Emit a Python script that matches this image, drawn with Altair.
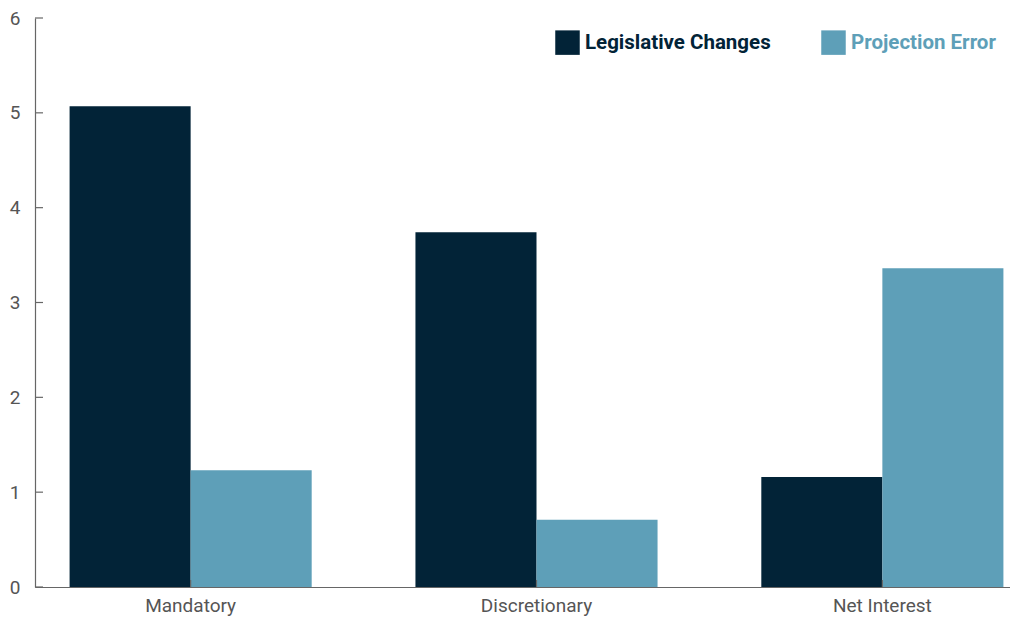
import altair as alt
import pandas as pd

categories = ["Mandatory", "Discretionary", "Net Interest"]
series = ["Legislative Changes", "Projection Error"]
legislative = [5.07, 3.74, 1.16]
projection = [1.23, 0.71, 3.36]
y_ticks = [0, 1, 2, 3, 4, 5, 6]
colors = ["#022337", "#5e9fb8"]

rows = []
for c, a, b in zip(categories, legislative, projection):
    rows.append({"category": c, "series": series[0], "value": a})
    rows.append({"category": c, "series": series[1], "value": b})
df = pd.DataFrame(rows)
ticks_df = pd.DataFrame({"v": y_ticks})
cat_df = pd.DataFrame({"category": categories})

FONT = "Roboto"
xscale = alt.Scale(domain=categories, paddingInner=0.3, paddingOuter=0.1, range=[0, 1003])
yscale = alt.Scale(domain=[0, 6], nice=False)

bars = alt.Chart(df).mark_bar().encode(
    x=alt.X("category:N", scale=xscale, sort=categories, title=None,
            axis=alt.Axis(labelAngle=0, labelFontSize=19, labelColor="#555555",
                          labelFont=FONT, labelPadding=9, ticks=False,
                          domainColor="#666666", domainWidth=1.2)),
    xOffset=alt.XOffset("series:N", sort=series),
    y=alt.Y("value:Q", scale=yscale, title=None,
            axis=alt.Axis(values=y_ticks, format="d", labelFontSize=19, labelColor="#555555",
                          labelFont=FONT, labelPadding=15, ticks=False, grid=False,
                          domainColor="#666666", domainWidth=1.2)),
    color=alt.Color("series:N", sort=series,
                    scale=alt.Scale(domain=series, range=colors),
                    legend=alt.Legend(title=None, orient="none", direction="horizontal",
                                      legendX=520, legendY=12,
                                      symbolType="square", symbolSize=600,
                                      symbolStrokeWidth=0, symbolOpacity=1,
                                      labelFont=FONT, labelFontSize=20.5,
                                      labelFontWeight="bold", labelLimit=400,
                                      labelColor=alt.ExprRef("datum.label == 'Projection Error' ? '#5e9fb8' : '#022337'"),
                                      columnPadding=50, labelOffset=5)),
)

yticks = alt.Chart(ticks_df).mark_rule(color="#666666", strokeWidth=1.2).encode(
    y=alt.Y("v:Q", scale=yscale),
    x=alt.value(0), x2=alt.value(8),
)

xticks = alt.Chart(cat_df).mark_rule(color="#666666", strokeWidth=1.2).encode(
    x=alt.X("category:N", scale=xscale, sort=categories),
    y=alt.value(562), y2=alt.value(569),
)

chart = alt.layer(bars, yticks, xticks).properties(
    width=975, height=569,
    background="white",
    autosize=alt.AutoSizeParams(type="none"),
    padding={"left": 27, "top": 10, "right": 0, "bottom": 31},
).configure_view(strokeWidth=0, stroke="transparent")

chart.save("out.html", embed_options={"renderer": "svg", "actions": False})
